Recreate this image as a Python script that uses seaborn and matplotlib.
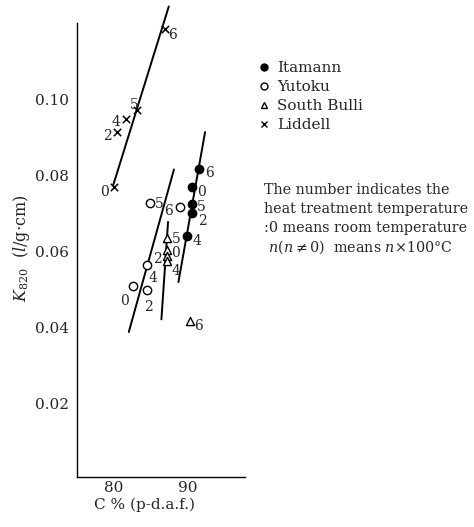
import matplotlib
matplotlib.use("Agg")
import matplotlib.pyplot as plt
import seaborn as sns
import pandas as pd
from matplotlib.lines import Line2D

# ---- data ----
temps_itamann = ["6", "0", "5", "2", "4"]
c_itamann = [91.5, 90.5, 90.5, 90.6, 89.8]
k_itamann = [0.0818, 0.0770, 0.0725, 0.0702, 0.0642]
line_itamann_x = [88.7, 92.3]
line_itamann_y = [0.0520, 0.0914]

temps_yutoku = ["0", "2", "4", "5", "6"]
c_yutoku = [82.5, 84.5, 84.5, 84.9, 88.9]
k_yutoku = [0.0510, 0.0499, 0.0566, 0.0729, 0.0718]
line_yutoku_x = [82.0, 88.1]
line_yutoku_y = [0.0389, 0.0816]

temps_bulli = ["5", "0", "2", "4", "6"]
c_bulli = [87.2, 87.2, 87.2, 87.2, 90.3]
k_bulli = [0.0637, 0.0605, 0.0588, 0.0575, 0.0418]
line_bulli_x = [86.4, 87.3]
line_bulli_y = [0.0422, 0.0678]

temps_liddell = ["6", "5", "4", "2", "0"]
c_liddell = [86.9, 83.1, 81.6, 80.45, 80.0]
k_liddell = [0.1185, 0.0971, 0.0949, 0.0914, 0.0770]
line_liddell_x = [79.9, 87.4]
line_liddell_y = [0.0775, 0.1244]

series_names = ["Itamann", "Yutoku", "South Bulli", "Liddell"]
x_ticks = [80, 90]
y_ticks = [0.02, 0.04, 0.06, 0.08, 0.10]
note_lines = ["The number indicates the",
              "heat treatment temperature",
              ":0 means room temperature",
              r" $n$($n$$\neq$0)  means $n$$\times$100°C"]

# label offsets (points) per series
off_itamann = [(4, -3), (4, -4), (4, -2), (4, -6), (4, -4)]
off_yutoku = [(-9, -11), (-2, -12), (1, -10), (3, -1), (-11, -3)]
off_bulli = [(3, -1), (3, -2), (-10, -2), (3, -7), (3, -4)]
off_liddell = [(2, -4), (-5, 4), (-10, -2), (-10, -3), (-10, -4)]

sns.set_theme(style="white")
plt.rcParams["font.family"] = ["DejaVu Serif"]
plt.rcParams["mathtext.fontset"] = "dejavuserif"

fig = plt.figure(figsize=(4.74, 5.27), dpi=100)
ax = fig.add_axes([0.1624, 0.0949, 0.3546, 0.861])

def draw(cs, ks, lx, ly, marker, fc, temps, offs, size):
    df = pd.DataFrame({"C": cs, "K": ks})
    ldf = pd.DataFrame({"C": lx, "K": ly})
    sns.lineplot(data=ldf, x="C", y="K", ax=ax, color="black", lw=1.4,
                 estimator=None, sort=False, clip_on=False)
    if marker == "x":
        sns.scatterplot(data=df, x="C", y="K", ax=ax, marker="x", color="black",
                        s=size, linewidth=1.1, zorder=3, clip_on=False)
    else:
        sns.scatterplot(data=df, x="C", y="K", ax=ax, marker=marker,
                        facecolor=fc, edgecolor="black", s=size, linewidth=1.0, zorder=3)
    for c, k, t, o in zip(cs, ks, temps, offs):
        ax.annotate(t, (c, k), xytext=o, textcoords="offset points",
                    fontsize=10, ha="left", va="center", zorder=4)

draw(c_itamann, k_itamann, line_itamann_x, line_itamann_y, "o", "black", temps_itamann, off_itamann, 36)
draw(c_yutoku, k_yutoku, line_yutoku_x, line_yutoku_y, "o", "white", temps_yutoku, off_yutoku, 36)
draw(c_bulli, k_bulli, line_bulli_x, line_bulli_y, "^", "white", temps_bulli, off_bulli, 34)
draw(c_liddell, k_liddell, line_liddell_x, line_liddell_y, "x", "black", temps_liddell, off_liddell, 28)

ax.set_xlim(75, 97.7)
ax.set_ylim(0.0008, 0.12)
ax.set_xticks(x_ticks)
ax.set_xticklabels([str(v) for v in x_ticks], fontsize=11)
ax.set_yticks(y_ticks)
ax.set_yticklabels([f"{v:.2f}" for v in y_ticks], fontsize=11)
ax.tick_params(axis="x", direction="in", length=4, width=0.8, pad=3)
ax.tick_params(axis="y", direction="out", length=3, width=0.8, pad=3)
for side in ["top", "right"]:
    ax.spines[side].set_visible(False)
for side in ["left", "bottom"]:
    ax.spines[side].set_color("black")
    ax.spines[side].set_linewidth(1.0)
ax.set_xlabel("C % (p-d.a.f.)", fontsize=11)
ax.xaxis.set_label_coords(0.4, -0.045)
ax.set_ylabel(r"$K_{820}$  ($l$/g$\cdot$cm)", fontsize=11.5)
ax.yaxis.set_label_coords(-0.27, 0.505)

handles = [
    Line2D([], [], marker="o", ls="none", mfc="black", mec="black", ms=5),
    Line2D([], [], marker="o", ls="none", mfc="white", mec="black", ms=5),
    Line2D([], [], marker="^", ls="none", mfc="white", mec="black", ms=5),
    Line2D([], [], marker="x", ls="none", color="black", ms=5),
]
fig.legend(handles, series_names, loc="upper left", bbox_to_anchor=(0.528, 0.895),
           frameon=False, fontsize=11, handletextpad=0.35, labelspacing=0.32,
           handlelength=1.0, borderaxespad=0)

for i, line in enumerate(note_lines):
    fig.text(0.557, 1 - (190 + i * 19) / 527, line, fontsize=10.3, va="center", ha="left")

fig.savefig("out.png", dpi=100)
